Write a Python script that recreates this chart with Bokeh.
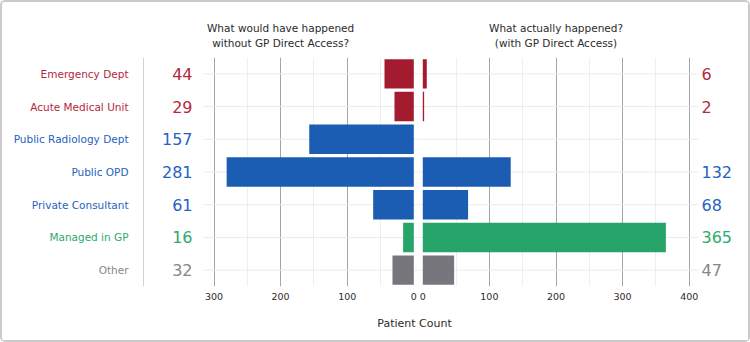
from bokeh.plotting import figure
from bokeh.layouts import row, column
from bokeh.models import Range1d, FactorRange, FixedTicker, Span
from bokeh.core.properties import value
from bokeh.embed import file_html
from bokeh.resources import INLINE

# ---- data -------------------------------------------------------------
categories = [
    "Emergency Dept",
    "Acute Medical Unit",
    "Public Radiology Dept",
    "Public OPD",
    "Private Consultant",
    "Managed in GP",
    "Other",
]
without_access = [44, 29, 157, 281, 61, 16, 32]      # what would have happened
with_access = [6, 2, None, 132, 68, 365, 47]         # what actually happened
groups = ["acute", "acute", "public", "public", "public", "gp", "other"]

left_ticks = [0, 100, 200, 300]
right_ticks = [0, 100, 200, 300, 400]

panel_titles = [
    ["What would have happened", "without GP Direct Access?"],
    ["What actually happened?", "(with GP Direct Access)"],
]

# ---- styling ----------------------------------------------------------
BAR_COLORS = {"acute": "#A41B30", "public": "#1C5DB4", "gp": "#27A46A", "other": "#77767D"}
TEXT_COLORS = {"acute": "#B3283A", "public": "#2563BF", "gp": "#2DAA6D", "other": "#868686"}
FONT_NAME = "DejaVu Sans"
FONT = value(FONT_NAME)
DARK = "#2b2b2b"
MAJOR_GRID = "#a4a4ac"
MINOR_GRID = "#eeeeee"
ROW_LINE = "#ebebeb"

bar_colors = [BAR_COLORS[g] for g in groups]
text_colors = [TEXT_COLORS[g] for g in groups]

PX = 0.666            # pixels per patient
LEFT_W, RIGHT_W = 416, 330
TOP_H, H = 53, 255    # title strip and chart heights
LEFT_ZERO = 411.3     # x of the left panel's zero inside its canvas
RIGHT_ZERO = 4.3      # x of the right panel's zero inside its canvas

factors = list(reversed(categories))
y_range = FactorRange(factors=factors)


def base_figure(width, x_range):
    p = figure(width=width, height=H, x_range=x_range, y_range=y_range,
               output_backend="svg", toolbar_location=None,
               y_axis_location=None, min_border_left=0, min_border_right=0,
               min_border_top=2, min_border_bottom=24,
               outline_line_color=None, background_fill_color="white",
               border_fill_color="white")
    p.ygrid.visible = False
    ax = p.xaxis[0]
    ax.axis_line_color = None
    ax.major_tick_line_color = None
    ax.minor_tick_line_color = None
    ax.major_tick_out = 0
    ax.major_label_standoff = 6
    ax.major_label_text_font = FONT_NAME
    ax.major_label_text_font_size = "9.5px"
    ax.major_label_text_color = DARK
    p.xgrid.grid_line_color = MAJOR_GRID
    p.xgrid.minor_grid_line_color = MINOR_GRID
    return p


# ---- panel titles -----------------------------------------------------
top = figure(width=LEFT_W + RIGHT_W, height=TOP_H, x_range=Range1d(0, LEFT_W + RIGHT_W),
             y_range=Range1d(0, TOP_H), output_backend="svg", toolbar_location=None,
             x_axis_location=None, y_axis_location=None, min_border=0,
             outline_line_color=None)
top.grid.visible = False
title_x = [LEFT_ZERO - 200 * PX, LEFT_W + RIGHT_ZERO + 200 * PX]
for k, (first, second) in enumerate(panel_titles):
    top.text(x=[title_x[k]] * 2, y=[TOP_H - 25, TOP_H - 40], text=[first, second],
             text_align="center", text_baseline="middle", text_font=FONT,
             text_font_size="10.5px", text_color=DARK)

# ---- left panel: without GP direct access (reversed axis) -------------
left = base_figure(LEFT_W, Range1d(LEFT_ZERO / PX, (LEFT_ZERO - LEFT_W) / PX))
left.xaxis[0].ticker = FixedTicker(ticks=left_ticks)
left.xgrid.ticker = FixedTicker(ticks=[t for t in left_ticks if t > 0],
                                minor_ticks=[50, 150, 250])

left.segment(x0=(LEFT_ZERO - 201) / PX, x1=(LEFT_ZERO - LEFT_W) / PX,
             y0=categories, y1=categories, line_color=ROW_LINE, line_width=1)
left.add_layout(Span(location=(LEFT_ZERO - 141) / PX, dimension="height",
                     line_color="#d4d4d4", line_width=1))
left.hbar(y=categories, left=0, right=without_access, height=0.9,
          fill_color=bar_colors, line_color=None)
left.text(x=(LEFT_ZERO - 126) / PX, y=categories, text=categories,
          text_align="right", text_baseline="middle", text_font=FONT,
          text_font_size="10.5px", text_color=text_colors)
left.text(x=(LEFT_ZERO - 190) / PX, y=categories,
          text=[str(v) for v in without_access],
          text_align="right", text_baseline="middle", text_font=FONT,
          text_font_size="16px", text_color=text_colors)

# ---- right panel: with GP direct access --------------------------------
right = base_figure(RIGHT_W, Range1d(-RIGHT_ZERO / PX, (RIGHT_W - RIGHT_ZERO) / PX))
right.xaxis[0].ticker = FixedTicker(ticks=right_ticks)
right.xgrid.ticker = FixedTicker(ticks=[t for t in right_ticks if t > 0],
                                 minor_ticks=[50, 150, 250, 350])

right.segment(x0=-RIGHT_ZERO / PX, x1=(280 - RIGHT_ZERO) / PX,
              y0=categories, y1=categories, line_color=ROW_LINE, line_width=1)

shown = [i for i, v in enumerate(with_access) if v is not None]
r_cats = [categories[i] for i in shown]
r_vals = [with_access[i] for i in shown]
r_bar_cols = [bar_colors[i] for i in shown]
r_txt_cols = [text_colors[i] for i in shown]

right.hbar(y=r_cats, left=0, right=r_vals, height=0.9,
           fill_color=r_bar_cols, line_color=None)
right.text(x=(283 - RIGHT_ZERO) / PX, y=r_cats, text=[str(v) for v in r_vals],
           text_align="left", text_baseline="middle", text_font=FONT,
           text_font_size="16px", text_color=r_txt_cols)

# ---- shared axis title ------------------------------------------------
bottom = figure(width=LEFT_W + RIGHT_W, height=30, x_range=Range1d(0, LEFT_W + RIGHT_W),
                y_range=Range1d(0, 30), output_backend="svg", toolbar_location=None,
                x_axis_location=None, y_axis_location=None, min_border=0,
                outline_line_color=None)
bottom.grid.visible = False
bottom.text(x=[412], y=[17.5], text=["Patient Count"], text_align="center",
            text_baseline="middle", text_font=FONT, text_font_size="11px",
            text_color=DARK)

layout = column(top, row(left, right), bottom,
                styles={"border": "2px solid #cbcbcb", "border-radius": "5px"})

open("out.html", "w").write(file_html(layout, INLINE))
